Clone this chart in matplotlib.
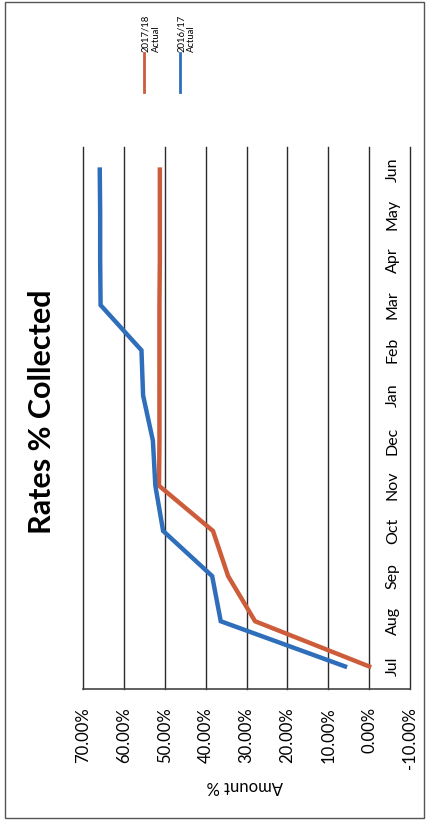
import matplotlib.pyplot as plt
from matplotlib.patches import Rectangle
from matplotlib.lines import Line2D

plt.rcParams['font.family'] = ['Lato', 'DejaVu Sans']

months = ['Jul', 'Aug', 'Sep', 'Oct', 'Nov', 'Dec', 'Jan', 'Feb', 'Mar', 'Apr', 'May', 'Jun']
actual_1718 = [0.0, 27.9, 34.5, 38.2, 51.4, 51.3, 51.3, 51.3, 51.3, 51.2, 51.2, 51.2]
actual_1617 = [5.9, 36.3, 38.4, 50.4, 52.3, 52.9, 55.3, 55.7, 65.7, 65.8, 65.8, 65.9]
value_ticks = [70, 60, 50, 40, 30, 20, 10, 0, -10]
series_names = ['2017/18\nActual', '2016/17\nActual']
series_colors = ['#CD5D3A', '#2F6EBA']

W, H = 426, 824


def fx(px):
    return px / W


def fy(py):
    return 1 - py / H


fig = plt.figure(figsize=(W / 100, H / 100), dpi=100)

# page border
fig.patches.append(Rectangle((fx(5), fy(818)), fx(424) - fx(5), fy(2) - fy(818),
                             transform=fig.transFigure, fill=False,
                             edgecolor='#555555', lw=1))

# the whole chart is turned a quarter turn: months run upward, values run leftward
ax = fig.add_axes([fx(83), fy(689), fx(410) - fx(83), fy(147) - fy(689)])
ax.set_xlim(70, -10)
ax.set_ylim(-0.5, len(months) - 0.5)

for v in value_ticks:
    ax.axvline(v, color='#2b2b2b', lw=1, clip_on=False, zorder=1)

ypos = list(range(len(months)))
ax.plot(actual_1718, ypos, color=series_colors[0], lw=3.2, zorder=3, solid_joinstyle='miter')
ax.plot(actual_1617, ypos, color=series_colors[1], lw=3.2, zorder=4, solid_joinstyle='miter')

for s in ['top', 'left', 'right']:
    ax.spines[s].set_visible(False)
ax.spines['bottom'].set_color('#444444')
ax.spines['bottom'].set_linewidth(1.2)

ax.set_xticks(value_ticks)
ax.set_xticklabels([f'{v:.2f}%' for v in value_ticks], rotation=90, fontsize=12)
ax.tick_params(axis='x', length=0, pad=13)
ax.set_yticks([])

for i, m in enumerate(months):
    ax.text(-5.8, i, m, rotation=90, ha='center', va='center', fontsize=11.5)

fig.text(fx(42), fy(412), 'Rates % Collected', rotation=90, ha='center', va='center',
         fontsize=22, fontweight='bold')
fig.text(fx(245), fy(786), 'Amount %', rotation=180, ha='center', va='center', fontsize=12)

# legend
for lx, name, clr in zip([144, 179.5], series_names, series_colors):
    fig.lines.append(Line2D([fx(lx), fx(lx)], [fy(92), fy(53)], transform=fig.transFigure,
                            color=clr, lw=2))
    fig.text(fx(lx + 7), fy(52), name, rotation=90, ha='center', va='bottom',
             multialignment='left', fontsize=6.8)

fig.savefig('out.png', dpi=100)
